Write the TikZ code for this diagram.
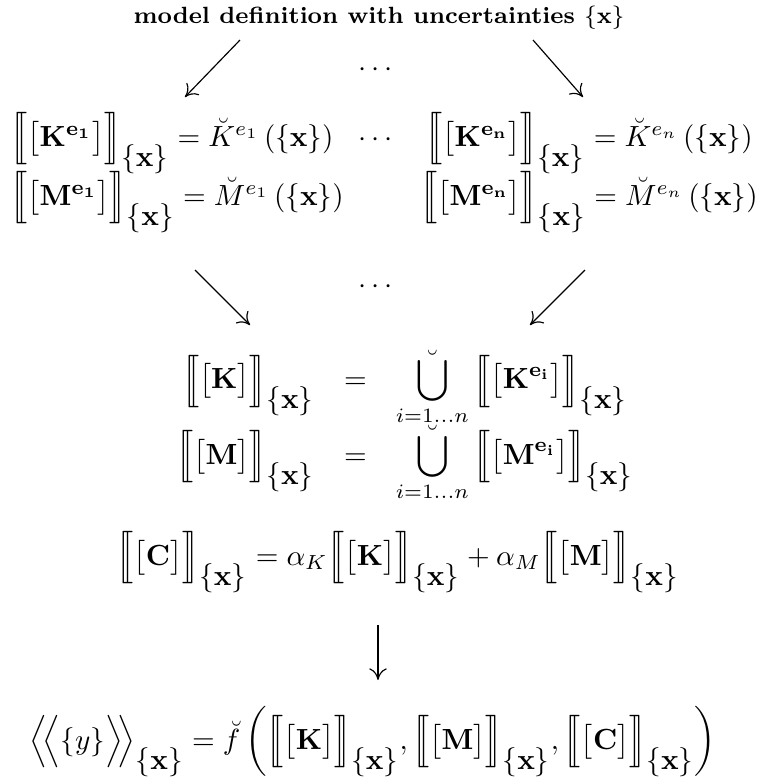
\documentclass[tikz,border=0pt]{standalone}
\usepackage{amsmath}
\usepackage{amssymb}
\usepackage{stmaryrd}
\usepackage{array}
\usetikzlibrary{arrows.meta}
\newcommand{\xs}{\{\mathbf{x}\}}
\newcommand{\ival}[1]{\Big\llbracket\big[#1\big]\Big\rrbracket_{\textstyle\xs}}
\newcommand{\bunion}{\mathop{\breve{\bigcup}}\limits_{i=1\ldots n}}

\begin{document}
\begin{tikzpicture}[x=0.343pt,y=-0.343pt,
  eqn/.style={inner sep=0pt,anchor=base},
  flow/.style={-{To[length=4pt,width=6pt]},thin}]
  \useasboundingbox (0,0) rectangle (757,782);
  \node[font=\fontsize{8.05}{10}\selectfont\bfseries] (title) at (379,18) {model definition with uncertainties $\xs$};
  % element matrices
  \node[eqn,anchor=base west] (k1) at (10,146) {$\ival{\mathbf{K^{e_1}}} = \breve{K}^{e_1}\left(\xs\right)$};
  \node[eqn,anchor=base west] (m1) at (10,205) {$\ival{\mathbf{M^{e_1}}} = \breve{M}^{e_1}\left(\xs\right)$};
  \node[eqn,anchor=base west] (kn) at (425,146) {$\ival{\mathbf{K^{e_n}}} = \breve{K}^{e_n}\left(\xs\right)$};
  \node[eqn,anchor=base west] (mn) at (420,205) {$\ival{\mathbf{M^{e_n}}} = \breve{M}^{e_n}\left(\xs\right)$};
  \node (dtop) at (378,70) {$\cdots$};
  \node (dmid) at (378,140) {$\cdots$};
  \node (dlow) at (378,287) {$\cdots$};
  % assembly
  \node[eqn] (asm) at (405,433) {$\begin{array}{>{\displaystyle}r>{\displaystyle}c>{\displaystyle}l}
    \ival{\mathbf{K}} & = & \bunion\ival{\mathbf{K^{e_i}}}\\[1pt]
    \ival{\mathbf{M}} & = & \bunion\ival{\mathbf{M^{e_i}}}
  \end{array}$};
  \node[eqn] (damp) at (398,565) {$\ival{\mathbf{C}} = \alpha_K\ival{\mathbf{K}} + \alpha_M\ival{\mathbf{M}}$};
  \node[eqn] (resp) at (373,749) {$\Big\langle\!\Big\langle\{y\}\Big\rangle\!\Big\rangle_{\textstyle\xs} = \breve{f}\,\bigg(\ival{\mathbf{K}}, \ival{\mathbf{M}}, \ival{\mathbf{C}}\bigg)$};
  % arrow ends
  \coordinate (aL) at (240,40);
  \coordinate (bL) at (185,97);
  \coordinate (aR) at (533,40);
  \coordinate (bR) at (583,97);
  \coordinate (cL) at (195,270);
  \coordinate (dL) at (250,325);
  \coordinate (cR) at (585,270);
  \coordinate (dR) at (530,325);
  \coordinate (eC) at (378,625);
  \coordinate (fC) at (378,680);
  \draw[flow] (aL) -- (bL);
  \draw[flow] (aR) -- (bR);
  \draw[flow] (cL) -- (dL);
  \draw[flow] (cR) -- (dR);
  \draw[flow] (eC) -- (fC);
\end{tikzpicture}
\end{document}
